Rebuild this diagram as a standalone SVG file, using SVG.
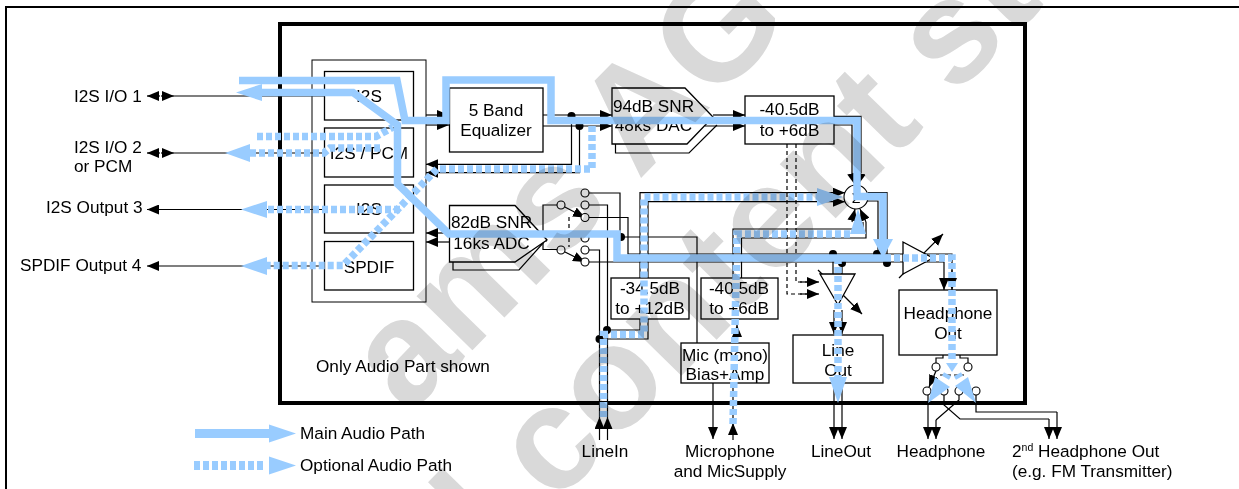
<svg xmlns="http://www.w3.org/2000/svg" width="1239" height="489" viewBox="0 0 1239 489">
<defs>
<marker id="ah" viewBox="0 0 12 10" refX="12" refY="5" markerWidth="12" markerHeight="10" markerUnits="userSpaceOnUse" orient="auto"><path d="M0 0L12 5L0 10z" fill="#000"/></marker>
</defs>
<style>
text{font-family:"Liberation Sans",Arial,sans-serif;font-size:17.2px;fill:#000}
.m{text-anchor:middle}
.b{fill:#fff;stroke:#000;stroke-width:1.3}
.n{fill:none;stroke:#000;stroke-width:1.2}
.a{marker-end:url(#ah)}
.d{stroke-dasharray:4 3}
.c{fill:#fff;stroke:#000;stroke-width:1.1}
.dot{fill:#000}
.main{fill:none;stroke:#99ccff;stroke-width:7.500}
.opt{fill:none;stroke:#99ccff;stroke-width:7.500;stroke-dasharray:6 3}
.h{fill:#99ccff}
.wm{font-weight:bold;font-size:147px;fill:#d9d9d9;mix-blend-mode:multiply}
</style>
<rect width="1239" height="489" fill="#fff"/>
<path id="page-frame" d="M6 489V7H1239" fill="none" stroke="#000" stroke-width="2"/>
<rect id="chip" x="280" y="24" width="745" height="379" fill="none" stroke="#000" stroke-width="4"/>
<g id="interfaces">
<rect x="312" y="60" width="114" height="242" fill="none" stroke="#000"/>
</g>
<g id="connectors">
<path class="n a" d="M160 96H147"/><path class="n a" d="M161 96H174"/><path class="n" d="M174 96H324"/>
<path class="n a" d="M160 153H147"/><path class="n a" d="M161 153H174"/><path class="n" d="M174 153H324"/>
<path class="n a" d="M324 209.500H147"/>
<path class="n a" d="M324 266H147"/>
<path class="n a" d="M426 115H449"/><path class="n a" d="M426 125H449"/>
<path class="n a" d="M543 115H612"/><path class="n a" d="M543 126H612"/>
<path class="n a" d="M713 115H745"/><path class="n a" d="M705 126H745"/>
<path class="n a" d="M571.500 116V164.300H426"/><path class="n a" d="M579.500 126V172.700H426"/>
<path class="n a" d="M449 233H426"/><path class="n a" d="M449 242H426"/>
<path class="n" d="M834 116.300H861V173"/><path class="n" d="M834 125H852V173"/>
<path class="n a" d="M852 173L855 185"/><path class="n a" d="M861 173L858 185"/>
<path class="n" d="M868 192.700H887V254"/><path class="n" d="M866 201H878V254"/>
<path class="n d" d="M787 144V294H807"/><path class="n d" d="M796 144V282H807"/>
<path class="n a" d="M800 294H819"/><path class="n a" d="M800 282H819"/>
<path class="n" d="M543 241V205H561M547 241H543V249.500H561"/>
<path class="n a" d="M561 205L585 217.500"/><path class="n a" d="M561 250L585 262"/>
<path class="n d" d="M569 217V247"/>
<path class="n" d="M585 193H620V237H697V343"/>
<path class="n" d="M585 205H607.500V330H640V319"/>
<path class="n" d="M585 250H599.500V339H648V319"/>
<path class="n" d="M585 217.500H628V254H952V276"/>
<path class="n a" d="M952 270V290"/>
<path class="n" d="M585 262H944"/><path class="n a" d="M944 262V290"/>
<path class="n a" d="M640 278V192.700H845"/>
<path class="n a" d="M648 278V201.700H845"/>
<path class="n" d="M733 278V229H863V222"/>
<path class="n" d="M741.500 278V238H866V222"/>
<path class="n a" d="M852 222L855 209"/><path class="n a" d="M866 222L860 209"/>
<path class="n a" d="M599.500 440V417"/><path class="n a" d="M607.500 440V417"/><path class="n" d="M599.500 417V339M607.500 417V330"/>
<path class="n a" d="M713 383V439"/>
<path class="n a" d="M733 440V423"/><path class="n" d="M733 423V383"/><path class="n a" d="M737 343V325"/>
<path class="n a" d="M834 383V439"/><path class="n a" d="M842 383V439"/>
<path class="n" d="M833 254V274M842 262V274"/>
<path class="n a" d="M834 310V334"/><path class="n a" d="M842 310V334"/>
<path class="n" d="M943 355V358H936V363M960 355V358H968V363"/>
<path class="n a" d="M936 371L929 387"/><path class="n d" d="M940 375H964"/>
<path class="n a" d="M928 395V439"/>
<path class="n" d="M959 395V400L936 420"/><path class="n a" d="M936 420V439"/>
<path class="n" d="M944 395V405L960 419H1049"/><path class="n a" d="M1049 419V439"/>
<path class="n" d="M976 395V412H1057"/><path class="n a" d="M1057 412V439"/>
<path class="n a" d="M899 278L943 234"/>
<path class="n a" d="M818 270L862 314"/>
</g>
<g id="n-i2s1"><rect class="b" x="324.500" y="71.500" width="89" height="48.500"/><text class="m" x="369" y="102">I2S</text></g>
<g id="n-i2s2"><rect class="b" x="324.500" y="128" width="89" height="49"/><text class="m" x="369" y="159">I2S / PCM</text></g>
<g id="n-i2s3"><rect class="b" x="324.500" y="185" width="89" height="48"/><text class="m" x="369" y="215">I2S</text></g>
<g id="n-spdif"><rect class="b" x="324.500" y="241.500" width="89" height="48.500"/><text class="m" x="369" y="273">SPDIF</text></g>
<g id="n-eq"><rect class="b" x="449.500" y="88" width="93.500" height="64"/><text class="m" x="496" y="116">5 Band</text><text class="m" x="496" y="136">Equalizer</text></g>
<g id="n-dac"><path class="n" d="M615.500 144V153H689L717 125"/><path class="b" d="M612 88H685L713 117L687 144H612z"/><text class="m" x="653.500" y="112">94dB SNR</text><text class="m" x="653.500" y="131">48ks DAC</text></g>
<g id="n-adc"><path class="n" d="M453 262V270H519L544 242"/><path class="b" d="M449.500 205.500H515L547 240L515 262H449.500z"/><text class="m" x="491.500" y="228">82dB SNR</text><text class="m" x="491.500" y="249">16ks ADC</text></g>
<g id="n-switch1">
<circle class="c" cx="561" cy="205" r="4"/><circle class="c" cx="585" cy="193" r="4"/><circle class="c" cx="585" cy="205" r="4"/><circle class="c" cx="585" cy="217.500" r="4"/>
<circle class="c" cx="561" cy="250" r="4"/><circle class="c" cx="585" cy="238" r="4"/><circle class="c" cx="585" cy="250" r="4"/><circle class="c" cx="585" cy="262" r="4"/>
</g>
<g id="n-level1"><rect class="b" x="745" y="96" width="89" height="48"/><text class="m" x="789.500" y="115">-40.5dB</text><text class="m" x="789.500" y="136">to +6dB</text></g>
<g id="n-level2"><rect class="b" x="611" y="278" width="78" height="41"/><text class="m" x="650" y="294">-34.5dB</text><text class="m" x="650" y="314">to +12dB</text></g>
<g id="n-level3"><rect class="b" x="701" y="278" width="77" height="41"/><text class="m" x="739" y="294">-40.5dB</text><text class="m" x="739" y="314">to +6dB</text></g>
<g id="n-mic"><rect class="b" x="681" y="343" width="88" height="40"/><text class="m" x="725" y="361">Mic (mono)</text><text class="m" x="725" y="380">Bias+Amp</text></g>
<g id="n-lineout"><rect class="b" x="793" y="335" width="90" height="48"/><text class="m" x="838" y="356">Line</text><text class="m" x="838" y="376">Out</text></g>
<g id="n-hp"><rect class="b" x="899" y="290" width="98" height="65"/><text class="m" x="948" y="319">Headphone</text><text class="m" x="948" y="339">Out</text></g>
<g id="n-sum"><circle class="c" cx="856" cy="197" r="12"/><text class="m" x="856" y="203" style="font-size:14px">Σ</text></g>
<g id="n-amp1"><path class="b" d="M903 242V274L933 258z"/></g>
<g id="n-amp2"><path class="b" d="M820 274H855L838 305z"/></g>
<g id="n-switch2">
<circle class="c" cx="936" cy="367" r="4"/><circle class="c" cx="968" cy="367" r="4"/><circle class="c" cx="927" cy="391" r="4"/><circle class="c" cx="944" cy="391" r="4"/><circle class="c" cx="959" cy="391" r="4"/><circle class="c" cx="976" cy="391" r="4"/>
</g>
<g id="joints" class="dot">
<circle cx="571.500" cy="116" r="4"/><circle cx="579.500" cy="126" r="4"/><circle cx="621" cy="237" r="4"/><circle cx="833" cy="254" r="4"/><circle cx="842" cy="263" r="4"/><circle cx="877" cy="254" r="4"/><circle cx="887" cy="263" r="4"/><circle cx="599.500" cy="339" r="4"/><circle cx="607" cy="330" r="4"/>
</g>
<g id="labels">
<text x="74" y="102">I2S I/O 1</text>
<text x="74" y="153">I2S I/O 2</text><text x="74" y="172">or PCM</text>
<text x="46" y="213">I2S Output 3</text>
<text x="20" y="271">SPDIF Output 4</text>
<text x="316" y="372">Only Audio Part shown</text>
<text class="m" x="605" y="457">LineIn</text>
<text class="m" x="730" y="457">Microphone</text><text class="m" x="730" y="477">and MicSupply</text>
<text class="m" x="841" y="457">LineOut</text>
<text class="m" x="941" y="457">Headphone</text>
<text x="1012" y="457">2<tspan dy="-6" style="font-size:10.500px">nd</tspan><tspan dy="6"> Headphone Out</tspan></text>
<text x="1012" y="477">(e.g. FM Transmitter)</text>
<text x="300" y="439">Main Audio Path</text>
<text x="300" y="471">Optional Audio Path</text>
</g>
<g id="paths">
<path class="main" d="M239 80.500H397L405 120.500H446V80H551V120.500H857V196.500H883V240"/>
<path class="h" d="M873 239H893L883 258z"/>
<path class="main" d="M885 258H617V234H449L397.500 184V125L353 92.500H262"/>
<path class="h" d="M262 84V101L236 92.500z"/>
<path class="opt" d="M257 136.500H376L393 127"/>
<path class="opt" d="M250 153H324L330 148H380"/>
<path class="h" d="M250 144V162L225 153z"/>
<path class="opt" d="M592 126V169H437L343 265.500H267"/>
<path class="h" d="M267 257V275L241 266z"/>
<path class="opt" d="M400 209.500H267"/>
<path class="h" d="M267 201V218L241 209.500z"/>
<path class="opt" d="M603.500 417V334.500H644V197H817"/>
<path class="h" d="M817 188V206L843 197z"/>
<path class="opt" d="M733 424L737 234H850"/>
<path class="h" d="M850 234H866L858 209z"/>
<path class="opt" d="M838 258V377"/>
<path class="h" d="M829 377H847L838 403z"/>
<path class="opt" d="M885 258H952V360"/>
<path class="h" d="M946 363H958L952 372z"/>
<path d="M943 374L950 378M962 374L955 378" fill="none" stroke="#99ccff" stroke-width="4"/>
<path class="h" d="M928 403L935 377L950 387z"/>
<path class="h" d="M976 403L968 377L955 386z"/>
</g>
<g id="legend">
<path class="main" d="M195 433.500H269" style="stroke-width:9"/>
<path class="h" d="M269 424.500V442.500L296 433.500z"/>
<path class="opt" d="M194 465.500H265" style="stroke-width:9"/>
<path class="h" d="M269 456.500V474.500L296 465.500z"/>
</g>
<g id="watermark">
<text class="wm" transform="translate(408 416) rotate(-45.600)">ams AG</text>
<text class="wm" transform="translate(497 564) rotate(-45.600)">l content st</text>
</g>
</svg>
